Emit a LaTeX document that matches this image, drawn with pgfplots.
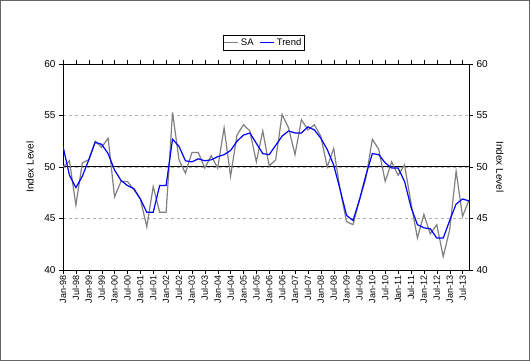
\documentclass[border=0pt]{standalone}
\usepackage{pgfplots}
\pgfplotsset{compat=1.18}
\usepackage{pgfplotstable}
\usepackage{fontspec}
\setmainfont{Liberation Sans}

\pgfplotstableread{
i sa tr
0 50.0 52.0
1 50.6 49.2
2 46.3 48.0
3 50.4 49.1
4 50.7 50.7
5 52.5 52.4
6 51.9 52.2
7 52.8 51.3
8 47.1 49.7
9 48.6 48.7
10 48.6 48.2
11 47.8 47.9
12 46.9 46.9
13 44.2 45.6
14 48.1 45.6
15 45.6 48.2
16 45.6 48.2
17 55.3 52.7
18 50.7 52.0
19 49.4 50.6
20 51.4 50.5
21 51.4 50.8
22 49.9 50.6
23 51.1 50.7
24 49.9 51.0
25 53.8 51.2
26 49.1 51.6
27 53.1 52.5
28 54.1 53.1
29 53.5 53.3
30 50.5 52.3
31 53.5 51.3
32 50.1 51.2
33 50.7 52.1
34 55.1 53.0
35 53.8 53.5
36 51.2 53.3
37 54.6 53.3
38 53.6 53.9
39 54.1 53.6
40 53.0 52.8
41 50.0 51.7
42 51.8 50.2
43 47.8 47.8
44 44.7 45.3
45 44.4 44.8
46 46.8 46.8
47 48.9 49.2
48 52.7 51.3
49 51.7 51.2
50 48.6 50.4
51 50.5 49.9
52 49.2 49.9
53 50.2 48.6
54 46.5 46.1
55 43.1 44.4
56 45.4 44.1
57 43.5 44.0
58 44.4 43.1
59 41.3 43.1
60 43.9 44.8
61 49.6 46.4
62 45.2 46.9
63 46.8 46.7
}\datatable

\begin{document}
\begin{tikzpicture}
\useasboundingbox (-63pt,-91pt) rectangle (467pt,270pt);
\draw[black!60, line width=1pt] (-62.5pt,-90.5pt) rectangle (466.5pt,269.5pt);
\begin{axis}[
  at={(0pt,0pt)}, anchor=south west,
  scale only axis, width=406pt, height=206pt,
  xmin=0, xmax=63, ymin=40, ymax=60,
  ytick={40,45,50,55,60},
  xtick={0,2,...,62},
  xticklabels={Jan-98,Jul-98,Jan-99,Jul-99,Jan-00,Jul-00,Jan-01,Jul-01,Jan-02,Jul-02,Jan-03,Jul-03,Jan-04,Jul-04,Jan-05,Jul-05,Jan-06,Jul-06,Jan-07,Jul-07,Jan-08,Jul-08,Jan-09,Jul-09,Jan-10,Jul-10,Jan-11,Jul-11,Jan-12,Jul-12,Jan-13,Jul-13},
  x tick label style={rotate=90, anchor=east, font=\fontsize{9}{10}\selectfont, inner sep=1.5pt},
  y tick label style={font=\fontsize{10}{11}\selectfont},
  /pgf/number format/assume math mode=true,
  tick align=outside, major tick length=4pt,
  tick style={black},
  axis line style={black, line width=0.9pt},
  ymajorgrids, grid style={dashed, black!30, line width=0.6pt},
  ylabel={Index Level},
  ylabel style={at={(axis description cs:-0.081,0.5)}, anchor=center, font=\fontsize{10}{11}\selectfont},
  legend columns=2,
  legend style={at={(0.494,1)}, anchor=south, yshift=14pt, draw=black, font=\fontsize{9.5}{10}\selectfont, inner sep=1pt, /tikz/every even column/.append style={column sep=4pt}},
  legend image code/.code={\draw[#1] (0pt,0pt) -- (14pt,0pt);},
]
\draw[black, line width=1pt] (axis cs:0,50) -- (axis cs:63,50);
\addplot[color=gray, line width=1.2pt] table[x=i, y=sa] {\datatable};
\addlegendentry{SA}
\addplot[color=blue, line width=1.2pt] table[x=i, y=tr] {\datatable};
\addlegendentry{Trend}
\end{axis}
\begin{axis}[
  at={(0pt,0pt)}, anchor=south west,
  scale only axis, width=406pt, height=206pt,
  xmin=0, xmax=63, ymin=40, ymax=60,
  axis y line*=right, axis x line=none,
  ytick={40,45,50,55,60},
  y tick label style={font=\fontsize{10}{11}\selectfont},
  /pgf/number format/assume math mode=true,
  tick align=outside, major tick length=4pt,
  tick style={black},
  axis line style={black, line width=0.9pt},
  ylabel={Index Level},
  ylabel style={at={(axis description cs:1.076,0.5)}, anchor=center, rotate=180, font=\fontsize{10}{11}\selectfont},
]
\end{axis}
\end{tikzpicture}
\end{document}
